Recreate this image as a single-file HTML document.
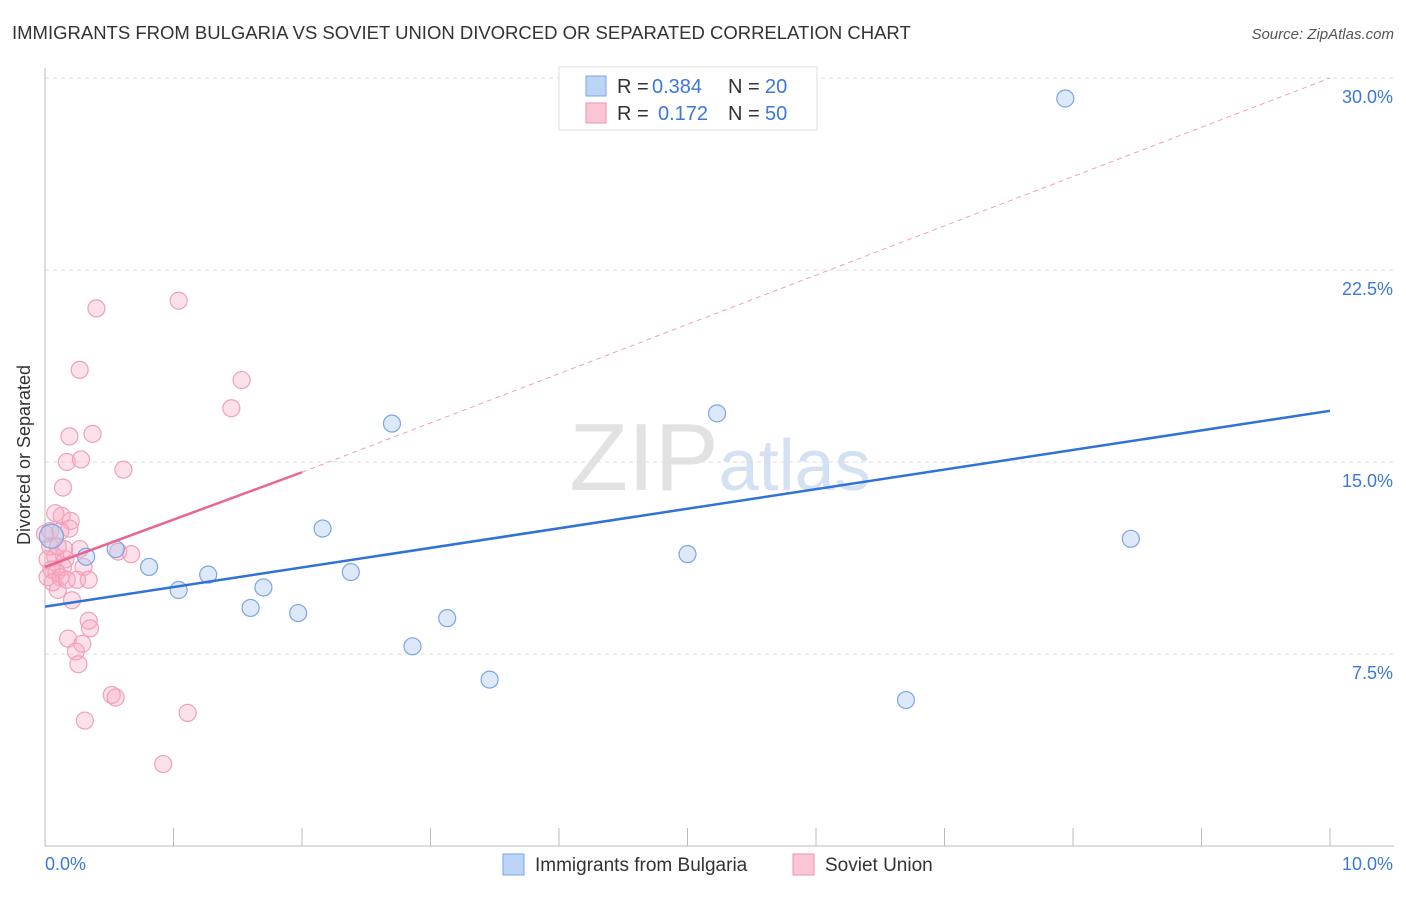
<!DOCTYPE html>
<html><head><meta charset="utf-8"><style>
body{margin:0;background:#fff;font-family:"Liberation Sans",sans-serif;}
svg text{font-family:"Liberation Sans",sans-serif;}
</style></head><body>
<svg width="1406" height="892" xmlns="http://www.w3.org/2000/svg">
<text x="12" y="39" font-size="18.5" fill="#333">IMMIGRANTS FROM BULGARIA VS SOVIET UNION DIVORCED OR SEPARATED CORRELATION CHART</text>
<text x="1394" y="39" font-size="15" fill="#555" text-anchor="end" font-style="italic">Source: ZipAtlas.com</text>
<text x="30" y="455" font-size="18" fill="#333" text-anchor="middle" transform="rotate(-90 30 455)">Divorced or Separated</text>
<text x="720" y="490" font-size="96" fill="#e2e2e2" text-anchor="middle" font-family="Liberation Serif">ZIP<tspan fill="#d3e1f3" font-family="Liberation Sans" font-size="72">atlas</tspan></text>
<g id="grid"></g><g id="axes"></g><g id="pts"></g><g id="lines"></g>
<g>
<rect x="559" y="67" width="258" height="63" fill="#fff" stroke="#ddd"/>
<rect x="586" y="76" width="20" height="20" fill="#bcd4f5" stroke="#7aa6e6"/>
<rect x="586" y="103" width="20" height="20" fill="#fac5d5" stroke="#ee92ae"/>
<text x="617" y="93" font-size="20" fill="#333">R =</text>
<text x="652" y="93" font-size="20" fill="#3b78d8">0.384</text>
<text x="728" y="93" font-size="20" fill="#333">N =</text>
<text x="765" y="93" font-size="20" fill="#3b78d8">20</text>
<text x="617" y="120" font-size="20" fill="#333">R =</text>
<text x="658" y="120" font-size="20" fill="#3b78d8">0.172</text>
<text x="728" y="120" font-size="20" fill="#333">N =</text>
<text x="765" y="120" font-size="20" fill="#3b78d8">50</text>
</g>
<g>
<rect x="503" y="854" width="21" height="21" fill="#bcd4f5" stroke="#7aa6e6"/>
<text x="535" y="871" font-size="19" fill="#333">Immigrants from Bulgaria</text>
<rect x="793" y="854" width="21" height="21" fill="#fac5d5" stroke="#ee92ae"/>
<text x="825" y="871" font-size="19" fill="#333">Soviet Union</text>
</g>
</svg>
<script>
const yTicks=[7.5,15,22.5,30];
const yTickLabels=["7.5%","15.0%","22.5%","30.0%"];
const blueX=[7.94,5.23,2.70,2.16,8.45,5.00,0.55,0.32,0.81,1.27,2.38,1.70,1.04,1.60,1.97,3.13,2.86,3.46,6.70,0.05];
const blueY=[29.2,16.9,16.5,12.4,12.0,11.4,11.6,11.3,10.9,10.6,10.7,10.1,10.0,9.3,9.1,8.9,7.8,6.5,5.7,12.1];
const pinkX=[0.40,1.04,0.27,1.53,1.45,0.19,0.37,0.17,0.28,0.61,0.14,0.08,0.13,0.20,0.19,0.04,0.12,0.27,0.57,0.67,0.08,0.02,0.16,0.14,0.30,0.05,0.09,0.02,0.12,0.25,0.34,0.10,0.21,0.34,0.35,0.18,0.29,0.24,0.26,0.52,0.55,1.11,0.31,0.92,0.06,0.15,0.0,0.04,0.17,0.10];
const pinkY=[21.0,21.3,18.6,18.2,17.1,16.0,16.1,15.0,15.1,14.7,14.0,13.0,12.9,12.7,12.4,12.3,12.3,11.6,11.5,11.4,11.3,11.2,11.2,10.9,10.9,10.8,10.7,10.5,10.5,10.4,10.4,10.0,9.6,8.8,8.5,8.1,7.9,7.6,7.1,5.9,5.8,5.2,4.9,3.2,10.3,11.6,12.2,11.7,10.4,11.7];
const blueTrend=[0,9.35,10,17.0];
const pinkTrend=[0,10.9,2,14.6];
const pinkDash=[2,14.6,10,30.0];
const NS="http://www.w3.org/2000/svg";
const X=v=>45+v*128.5, Y=v=>846-v*25.6;
function mk(p,t,a){const e=document.createElementNS(NS,t);for(const k in a)e.setAttribute(k,a[k]);document.getElementById(p).appendChild(e);return e;}
yTicks.forEach((t,i)=>{
 const l=mk('grid','line',{x1:45,x2:1394,y1:Y(t),y2:Y(t),stroke:'#ddd','stroke-dasharray':'4 4'});
 
 
 const tx=mk('grid','text',{x:1393,y:Y(t)+25,'font-size':18,fill:'#3b78d8','text-anchor':'end'});tx.textContent=yTickLabels[i];
 
 
});
mk('axes','line',{x1:45,x2:45,y1:68,y2:846,stroke:'#bbb'});
mk('axes','line',{x1:45,x2:1394,y1:846,y2:846,stroke:'#bbb'});
for(let i=0;i<=10;i++){mk('axes','line',{x1:X(i),x2:X(i),y1:828,y2:846,stroke:'#bbb'});}
const a0=mk('axes','text',{x:45,y:870,'font-size':18,fill:'#3b78d8'});a0.textContent='0.0%';


const a1=mk('axes','text',{x:1393,y:870,'font-size':18,fill:'#3b78d8','text-anchor':'end'});a1.textContent='10.0%';


pinkX.forEach((x,i)=>{const c=mk('pts','circle',{cx:X(x),cy:Y(pinkY[i]),r:8.5,fill:'rgba(248,170,195,0.35)',stroke:'#f0a0b8','stroke-width':1.2});
 
 });
blueX.forEach((x,i)=>{const c=mk('pts','circle',{cx:X(x),cy:Y(blueY[i]),r:i==19?12:8.5,fill:'rgba(170,200,240,0.4)',stroke:'#7aa6e6','stroke-width':1.2});
 
 });
const bt=mk('lines','line',{x1:X(blueTrend[0]),y1:Y(blueTrend[1]),x2:X(blueTrend[2]),y2:Y(blueTrend[3]),stroke:'#2f73d8','stroke-width':2.5});


const pt=mk('lines','line',{x1:X(pinkTrend[0]),y1:Y(pinkTrend[1]),x2:X(pinkTrend[2]),y2:Y(pinkTrend[3]),stroke:'#e8668f','stroke-width':2.5});


const pd=mk('lines','line',{x1:X(pinkDash[0]),y1:Y(pinkDash[1]),x2:X(pinkDash[2]),y2:Y(pinkDash[3]),stroke:'#eea0b8','stroke-width':1,'stroke-dasharray':'5 4'});


</script>
</body></html>
